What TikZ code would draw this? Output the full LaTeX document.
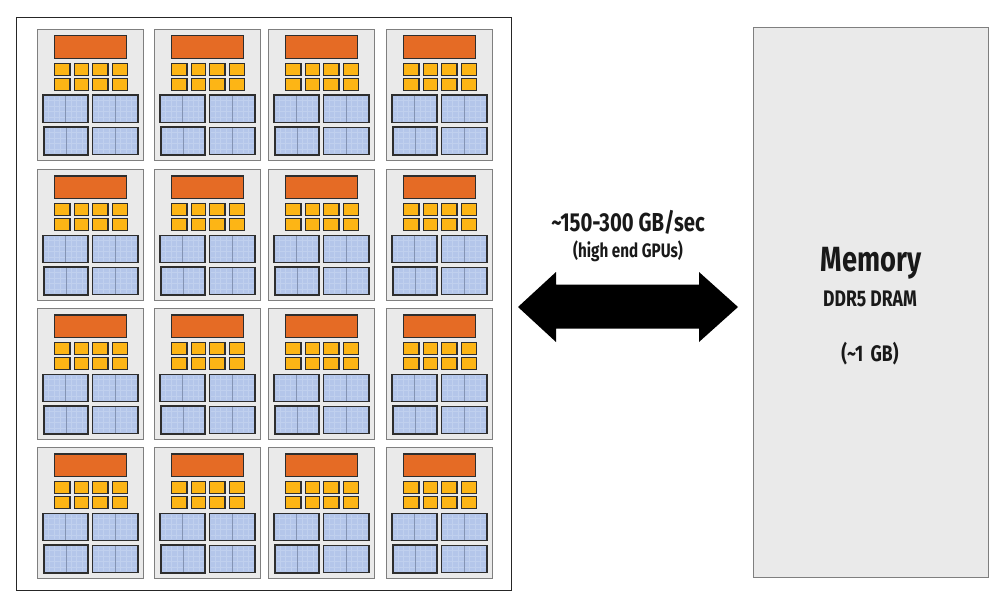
\documentclass[tikz,border=0pt]{standalone}
\usepackage{fontspec}
\setmainfont{Fira Sans}
\newfontfamily\condfont[FakeStretch=0.78]{Fira Sans}
\definecolor{tilegray}{HTML}{EAEAEA}
\definecolor{tileedge}{HTML}{7F7F7F}
\definecolor{orangeblock}{HTML}{E56B25}
\definecolor{yellowblock}{HTML}{FDB515}
\definecolor{blueblock}{HTML}{B4C6EA}
\definecolor{bluelight}{HTML}{C0D0EE}
\definecolor{bluedark}{HTML}{8494B4}
\definecolor{blockedge}{HTML}{2E2E2E}
\tikzset{
  tilebox/.style={draw=tileedge,fill=tilegray,line width=1.2pt},
  orangebox/.style={draw=blockedge,fill=orangeblock,line width=1.4pt},
  yellowbox/.style={draw=blockedge,fill=yellowblock,line width=1.4pt},
  bluebox/.style={draw=blockedge,fill=blueblock,line width=1.6pt},
  bluemid/.style={draw=bluedark,line width=.8pt},
  bluegrid/.style={draw=bluelight,line width=.8pt},
  memorybox/.style={draw=tileedge,fill=tilegray,line width=.8pt},
  outerbox/.style={draw=black!85,line width=1pt},
  bigarrow/.style={fill=black,draw=none},
  label/.style={inner sep=0pt,text=black!90},
  pics/bluecell/.style n args={2}{code={
    \path[bluebox] (0,0) rectangle (#1,#2);
    \foreach \fy in {.2,.4,.6,.8}
      \draw[bluegrid] (1.5,\fy*#2) -- (#1-1.5,\fy*#2);
    \foreach \fx in {.12,.24,.36,.62,.74,.86}
      \draw[bluegrid,line width=.5pt] (\fx*#1,1.5) -- (\fx*#1,#2-1.5);
    \draw[bluemid] (#1/2,.6) -- (#1/2,#2-.6);
    \path[draw=blockedge,line width=1.6pt] (0,0) rectangle (#1,#2);
  }},
  pics/gpucore/.style={code={
    \path[tilebox] (0,0) rectangle (106,131);
    \path[orangebox] (17,6.5) rectangle (89,29);
    \foreach \yy in {34,49}
      \foreach \xx/\ww in {17/15.5,37/14,55/15.5,75/15}
        \path[yellowbox] (\xx,\yy) rectangle ++(\ww,12);
    \pic at (5.5,66) {bluecell={45}{27}};
    \pic at (55,66) {bluecell={45.5}{27}};
    \pic at (6.5,97.5) {bluecell={44}{28}};
    \pic at (55,98) {bluecell={45.5}{27}};
  }}
}
\begin{document}
\begin{tikzpicture}[x=1pt,y=-1pt]
\useasboundingbox (0,0) rectangle (1002,594);
\fill[white] (0,0) rectangle (1002,594);
\path[outerbox] (16,18) rectangle (511,590);
\foreach \ty in {29.3,169.3,308.3,447.3}
  \foreach \tx in {37.5,154.5,268.5,386.5}
    \pic at (\tx,\ty) {gpucore};
\path[memorybox] (753,27) rectangle (988,577);
\path[bigarrow] (518,307) -- (556,272) -- (556,284.5) -- (699,284.5) -- (699,272) -- (738,307)
  -- (699,342) -- (699,328.5) -- (556,328.5) -- (556,342) -- cycle;
\node[label] (rate) at (628,222) {\condfont\bfseries\fontsize{26}{28}\selectfont \char`\~150-300 GB/sec};
\node[label] (gpus) at (628,251) {\condfont\bfseries\fontsize{19.5}{21}\selectfont (high end GPUs)};
\node[label] (mem) at (871,263) {\condfont\bfseries\fontsize{35}{37}\selectfont Memory};
\node[label] (ddr) at (870,299) {\condfont\bfseries\fontsize{22.5}{24}\selectfont DDR5 DRAM};
\node[label] (size) at (870,354) {\condfont\bfseries\fontsize{22.5}{24}\selectfont (\char`\~1\hspace{.15em} GB)};
\end{tikzpicture}
\end{document}
